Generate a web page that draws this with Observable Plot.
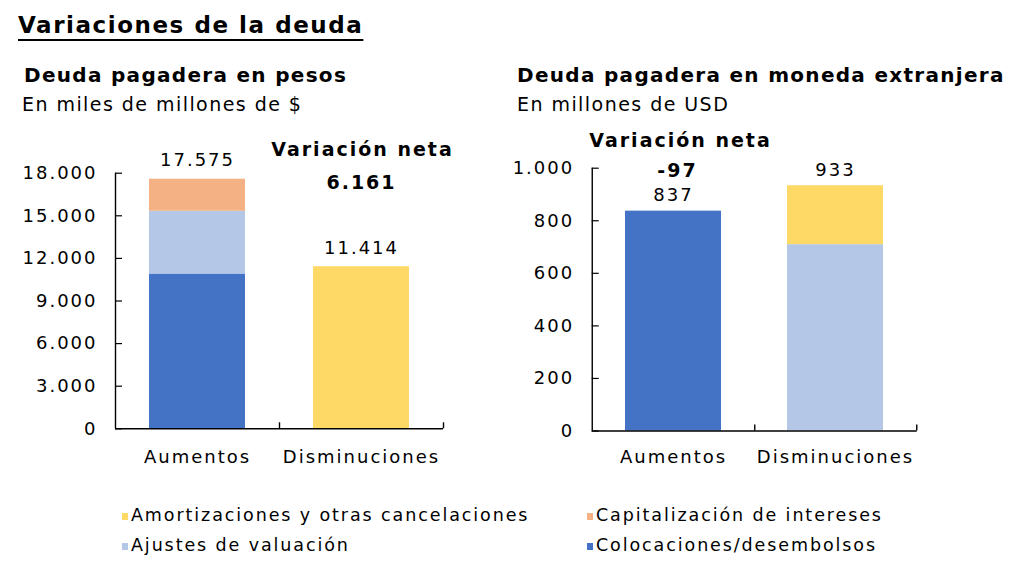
<!DOCTYPE html>
<html>
<head>
<meta charset="utf-8">
<script src="https://cdn.jsdelivr.net/npm/d3@7"></script>
<script src="https://cdn.jsdelivr.net/npm/@observablehq/plot@0.6"></script>
<style>
  html, body { margin: 0; padding: 0; background: #fff; }
  body { width: 1024px; height: 576px; position: relative; overflow: hidden; font-family: "DejaVu Sans", sans-serif; color: #000; }
  .t { position: absolute; white-space: nowrap; line-height: 1; }
  .title { left: 18px; top: 14px; font-size: 23px; font-weight: bold; letter-spacing: 1.55px; text-decoration: underline; text-decoration-thickness: 2px; text-underline-offset: 6px; }
  .sub { font-size: 20px; font-weight: bold; letter-spacing: 1.3px; top: 65px; }
  .unit { font-size: 19px; letter-spacing: 1.45px; top: 95px; }
  .panel { position: absolute; top: 120px; }
  .legend { position: absolute; font-size: 17.5px; letter-spacing: 1.9px; line-height: 1; white-space: nowrap; }
  .legend .sw { display: inline-block; width: 6px; height: 7px; margin-right: 3px; vertical-align: 1px; }
</style>
</head>
<body>
<div class="t title">Variaciones de la deuda</div>
<div class="t sub" style="left:24px">Deuda pagadera en pesos</div>
<div class="t unit" style="left:22px">En miles de millones de $</div>
<div class="t sub" style="left:517px">Deuda pagadera en moneda extranjera</div>
<div class="t unit" style="left:517px">En millones de USD</div>
<div id="left" class="panel" style="left:0px"></div>
<div id="right" class="panel" style="left:500px"></div>
<div id="legend"></div>
<script>
// ---- data ----
const categories = ["Aumentos", "Disminuciones"];
const seriesNames = ["Colocaciones/desembolsos", "Ajustes de valuación", "Capitalización de intereses", "Amortizaciones y otras cancelaciones"];
const seriesColors = ["#4472C4", "#B4C7E7", "#F4B183", "#FFD966"];

// Deuda pagadera en pesos (miles de millones de $)
const pesosCategory = ["Aumentos", "Aumentos", "Aumentos", "Disminuciones"];
const pesosSeries = ["Colocaciones/desembolsos", "Ajustes de valuación", "Capitalización de intereses", "Amortizaciones y otras cancelaciones"];
const pesosValues = [10900, 4420, 2255, 11414];
const pesosTicks = [0, 3000, 6000, 9000, 12000, 15000, 18000];

// Deuda pagadera en moneda extranjera (millones de USD)
const usdCategory = ["Aumentos", "Disminuciones", "Disminuciones"];
const usdSeries = ["Colocaciones/desembolsos", "Ajustes de valuación", "Amortizaciones y otras cancelaciones"];
const usdValues = [836.6, 709.2, 224.2];
const usdTicks = [0, 200, 400, 600, 800, 1000];

// legend layout (rows of series)
const legendRows = [
  ["Amortizaciones y otras cancelaciones", "Capitalización de intereses"],
  ["Ajustes de valuación", "Colocaciones/desembolsos"]
];

const loc = d3.formatLocale({decimal: ",", thousands: ".", grouping: [3], currency: ["$", ""], minus: "-"});
const fmt = loc.format(",.0f");

function makeData(cats, sers, vals) {
  return vals.map((v, i) => ({cat: cats[i], series: sers[i], value: v}));
}

function panel(opts) {
  const {data, ticks, yMax, width, height, ml, mr, mt, mb, xPad, labelDy, annot} = opts;
  const totals = categories.map(c => ({cat: c, total: d3.sum(data.filter(d => d.cat === c), d => d.value)}));
  const net = totals[0].total - totals[1].total;
  const innerW = width - ml - mr;
  const innerH = height - mt - mb;
  const step = innerW / categories.length;
  const marks = [
    Plot.barY(data, {x: "cat", y: "value", fill: "series"}),
    Plot.ruleY([0], {stroke: "#000", strokeWidth: 1.4}),
    Plot.tickX([categories[0]], {x: d => d, dx: -step / 2, stroke: "#000", strokeWidth: 1.4}),
    Plot.tickX(categories, {x: d => d, dx: step / 2, insetTop: innerH - 6, stroke: "#000", strokeWidth: 1.4}),
    Plot.tickY(ticks, {y: d => d, insetRight: innerW - 7, stroke: "#000", strokeWidth: 1.2}),
    Plot.text(totals, {x: "cat", y: "total", text: d => fmt(d.total), lineAnchor: "bottom", dy: labelDy, fontSize: 18}),
    Plot.text(["Variación neta"], {x: () => annot.cat, frameAnchor: "top", lineAnchor: "bottom", dy: annot.dy1, dx: annot.dx1, fontWeight: "bold", fontSize: 19}),
    Plot.text([fmt(net)], {x: () => annot.cat, frameAnchor: "top", lineAnchor: "bottom", dy: annot.dy2, dx: annot.dx2, fontWeight: "bold", fontSize: 19})
  ];
  return Plot.plot({
    width, height,
    marginLeft: ml, marginRight: mr, marginTop: mt, marginBottom: mb,
    style: {fontFamily: "DejaVu Sans", fontSize: "18px", color: "#000", background: "transparent", letterSpacing: "2px", overflow: "visible"},
    x: {domain: categories, paddingInner: xPad, paddingOuter: xPad / 2, label: null, tickSize: 0, tickPadding: opts.xTickPad, axis: "bottom"},
    y: {domain: [0, yMax], ticks, tickFormat: fmt, tickSize: 0, tickPadding: 18, label: null},
    color: {domain: seriesNames, range: seriesColors},
    marks
  });
}

const left = panel({
  data: makeData(pesosCategory, pesosSeries, pesosValues),
  ticks: pesosTicks, yMax: 18000,
  width: 460, height: 350, ml: 115, mr: 17, mt: 52.7, mb: 41.7, xPad: 0.415, xTickPad: 21,
  labelDy: -13,
  annot: {cat: "Disminuciones", dy1: -17.7, dx1: 1, dy2: 15.3, dx2: 0}
});
document.getElementById("left").appendChild(left);

const right = panel({
  data: makeData(usdCategory, usdSeries, usdValues),
  ticks: usdTicks, yMax: 1000,
  width: 440, height: 350, ml: 91.7, mr: 23.3, mt: 47.7, mb: 39.5, xPad: 0.41, xTickPad: 19,
  labelDy: -10,
  annot: {cat: "Aumentos", dy1: -21.7, dx1: 7, dy2: 9, dx2: 4}
});
document.getElementById("right").appendChild(right);

// legend
const colorOf = Object.fromEntries(seriesNames.map((s, i) => [s, seriesColors[i]]));
const legendX = [122, 587];
const legendY = [507, 537];
const legend = document.getElementById("legend");
legendRows.forEach((row, r) => {
  row.forEach((s, c) => {
    const div = document.createElement("div");
    div.className = "legend";
    div.style.left = legendX[c] + "px";
    div.style.top = legendY[r] + "px";
    const sw = document.createElement("span");
    sw.className = "sw";
    sw.style.background = colorOf[s];
    div.appendChild(sw);
    div.appendChild(document.createTextNode(s));
    legend.appendChild(div);
  });
});
</script>
</body>
</html>
